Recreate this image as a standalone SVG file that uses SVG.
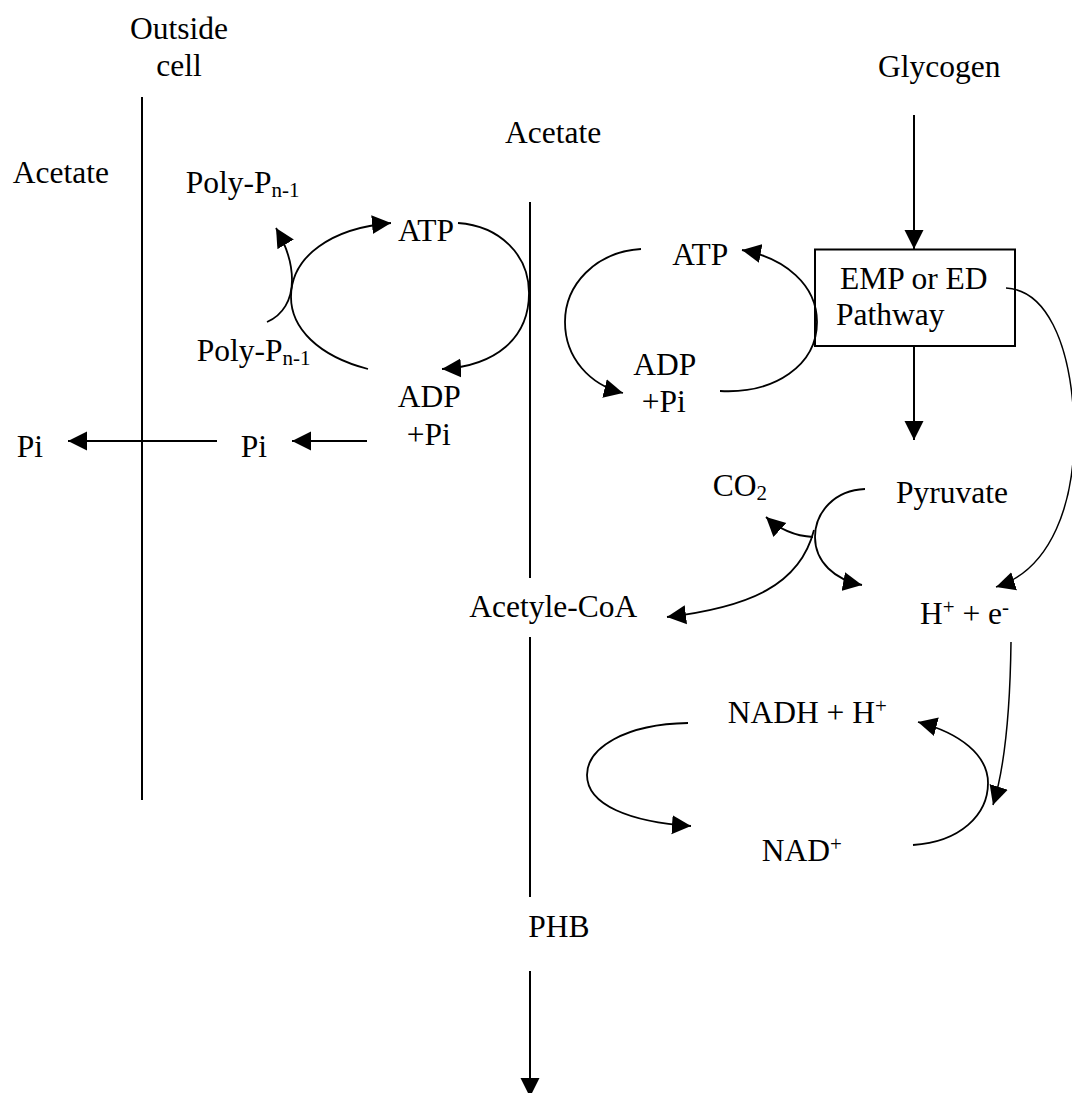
<svg xmlns="http://www.w3.org/2000/svg" width="1072" height="1093" viewBox="0 0 1072 1093">
<style>
text{font-family:"Liberation Serif","Times New Roman",serif;font-size:31.5px;fill:#000}
.s{font-size:21px}
.ln{fill:none;stroke:#000;stroke-width:2}
.cv{fill:none;stroke:#000;stroke-width:1.8}
.th{fill:none;stroke:#000;stroke-width:1.5}
.box{fill:#fff;stroke:#000;stroke-width:2}
</style>
<defs>
<marker id="ah" markerUnits="userSpaceOnUse" markerWidth="20" markerHeight="20" refX="19" refY="9.5" orient="auto" viewBox="0 0 20 19">
<path d="M0,0 L19,9.5 L0,19 z" fill="#000"/>
</marker>
</defs>
<rect width="1072" height="1093" fill="#fff"/>
<g id="membranes">
<line class="ln" x1="142" y1="97" x2="142" y2="800"/>
<line class="ln" x1="530" y1="202" x2="530" y2="578"/>
<line class="ln" x1="530" y1="637" x2="530" y2="897"/>
</g>
<g id="emp-box"><rect class="box" x="815" y="249.5" width="200" height="96.5"/>
<text x="840" y="289">EMP or ED</text><text x="836" y="325">Pathway</text></g>
<g id="connectors">
<path class="cv" d="M368,369 C318,356 291,328 291,297 C291,256 332,228 391,223" marker-end="url(#ah)"/>
<path class="cv" d="M458,223 C500,226 529,255 529,293 C529,338 496,366 442,369" marker-end="url(#ah)"/>
<path class="cv" d="M267,322 C283,315 292,300 292,280 C292,262 286,245 276,228" marker-end="url(#ah)"/>
<line class="ln" x1="217" y1="441" x2="68" y2="441" marker-end="url(#ah)"/>
<line class="ln" x1="367" y1="441" x2="292" y2="441" marker-end="url(#ah)"/>
<path class="cv" d="M641,249 C595,252 565,285 565,322 C565,358 590,385 623,393" marker-end="url(#ah)"/>
<path class="cv" d="M720,391 C775,394 817,365 817,322 C817,285 785,258 742,250" marker-end="url(#ah)"/>
<line class="ln" x1="914" y1="115" x2="914" y2="249" marker-end="url(#ah)"/>
<line class="ln" x1="914" y1="346" x2="914" y2="440" marker-end="url(#ah)"/>
<path class="th" d="M1006,288 C1045,290 1070,340 1074,420 C1077,505 1050,570 996,587" marker-end="url(#ah)"/>
<path class="cv" d="M865,489 C835,490 815,512 815,537 C815,562 835,580 862,585" marker-end="url(#ah)"/>
<path class="cv" d="M813,537 C795,536 780,530 766,517" marker-end="url(#ah)"/>
<path class="cv" d="M814,530 C800,585 750,607 667,617" marker-end="url(#ah)"/>
<path class="th" d="M1011,642 C1010,720 1004,770 993,805" marker-end="url(#ah)"/>
<path class="cv" d="M688,723 C625,724 587,748 587,775 C587,805 630,822 691,826" marker-end="url(#ah)"/>
<path class="cv" d="M913,845 C960,842 988,815 988,783 C988,755 960,733 918,722" marker-end="url(#ah)"/>
<line class="ln" x1="530" y1="971" x2="530" y2="1097" marker-end="url(#ah)"/>
</g>
<g id="outside-cell"><text x="179" y="39" text-anchor="middle">Outside</text><text x="179" y="76" text-anchor="middle">cell</text></g>
<g id="acetate-out"><text x="12.7" y="183">Acetate</text></g>
<g id="acetate-in"><text x="505" y="143">Acetate</text></g>
<g id="glycogen"><text x="878" y="77">Glycogen</text></g>
<g id="polyp-top"><text x="185.7" y="193">Poly-P<tspan class="s" dy="4">n-1</tspan></text></g>
<g id="polyp-bottom"><text x="196.7" y="361">Poly-P<tspan class="s" dy="4">n-1</tspan></text></g>
<g id="atp-left"><text x="398" y="241">ATP</text></g>
<g id="adp-left"><text x="397.7" y="407">ADP</text><text x="406.7" y="445">+Pi</text></g>
<g id="pi-out"><text x="16.7" y="457">Pi</text></g>
<g id="pi-mid"><text x="240.7" y="457">Pi</text></g>
<g id="atp-right"><text x="672.3" y="265">ATP</text></g>
<g id="adp-right"><text x="633.3" y="375">ADP</text><text x="641.8" y="412">+Pi</text></g>
<g id="co2"><text x="712.7" y="496">CO<tspan class="s" dy="4">2</tspan></text></g>
<g id="pyruvate"><text x="896" y="503">Pyruvate</text></g>
<g id="acetyl-coa"><text x="469.3" y="617">Acetyle-CoA</text></g>
<g id="h-e"><text x="920" y="624">H<tspan class="s" dy="-10">+</tspan><tspan dy="10"> + e</tspan><tspan class="s" dy="-10">-</tspan></text></g>
<g id="nadh"><text x="727.7" y="723">NADH + H<tspan class="s" dy="-10">+</tspan></text></g>
<g id="nad"><text x="761.7" y="861">NAD<tspan class="s" dy="-10">+</tspan></text></g>
<g id="phb"><text x="528.3" y="937">PHB</text></g>
</svg>
